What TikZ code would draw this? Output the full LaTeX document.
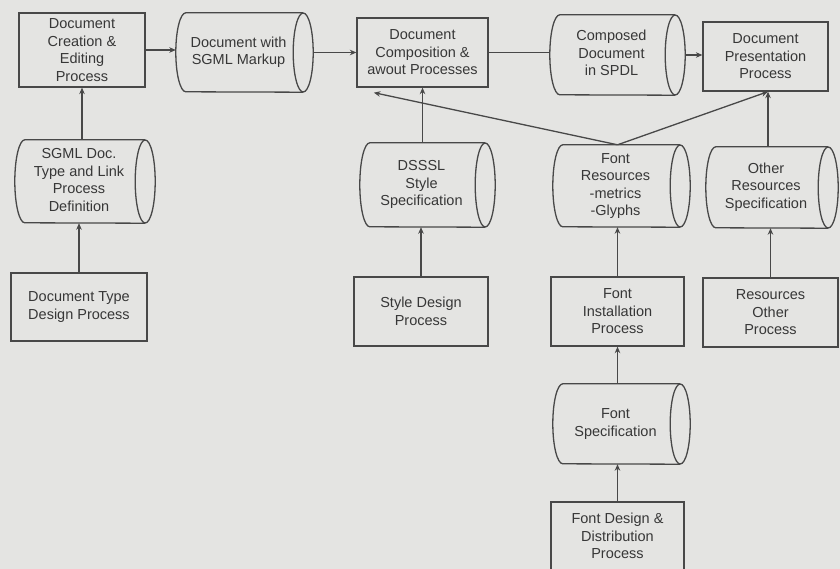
\documentclass[tikz,border=0pt]{standalone}
\usepackage{fontspec}
\setmainfont{Liberation Sans}
\usetikzlibrary{arrows.meta,calc}
\definecolor{bg}{RGB}{228,228,226}
\definecolor{ink}{RGB}{72,72,72}
\definecolor{txt}{RGB}{55,55,55}
\newcommand\cyltext[1]{\hspace*{-12pt}\begin{tabular}{@{}c@{}}#1\end{tabular}}
\newcommand\drawcyl[2]{%
  \draw[ln] ([xshift=-10pt]#1.north east) -- ([xshift=10pt]#1.north west)
    arc[start angle=90,end angle=270,x radius=10pt,y radius=#2]
    -- ([xshift=-10pt]#1.south east);
  \draw[ln] ([xshift=-10pt]#1.east) ellipse[x radius=10pt,y radius=#2];}
\begin{document}
\begin{tikzpicture}[x=1pt,y=-1pt,
  ln/.style={draw=ink,line width=1.3pt},
  arr/.style={ln,-{Stealth[length=6.5pt,width=5.5pt]}},
  txtfont/.style={text=txt,font=\fontsize{14.5}{17.5}\selectfont},
  proc/.style={rectangle,ln,txtfont,align=center,inner sep=0pt},
  store/.style={rectangle,draw=none,txtfont,inner sep=0pt}]
\useasboundingbox (0,0) rectangle (840,569);
\fill[bg] (0,0) rectangle (840,569);
\clip (0,0) rectangle (840,569);

% processes
\node[proc,minimum width=126pt,minimum height=74pt] (b1) at (82,50) {Document\\Creation \&\\Editing\\Process};
\node[proc,minimum width=131pt,minimum height=69pt] (b3) at (422.5,52.5) {Document\\Composition \&\\awout Processes};
\node[proc,minimum width=125pt,minimum height=69pt] (b5) at (765.5,56.5) {Document\\Presentation\\Process};
\node[proc,minimum width=136pt,minimum height=68pt] (b2) at (79,307) {Document Type\\Design Process};
\node[proc,minimum width=134pt,minimum height=69pt] (b4) at (421,311.5) {Style Design\\Process};
\node[proc,minimum width=133pt,minimum height=69pt] (b6) at (617.5,311.5) {Font\\Installation\\Process};
\node[proc,minimum width=135pt,minimum height=69pt] (b7) at (770.5,312.5) {Resources\\Other\\Process};
\node[proc,minimum width=133pt,minimum height=68pt] (b8) at (617.5,536) {Font Design \&\\Distribution\\Process};

% stores
\node[store,minimum width=137pt,minimum height=79pt] (cA) at (244.5,52.5) {\cyltext{Document with\\SGML Markup}};
\node[store,minimum width=135pt,minimum height=80pt] (cB) at (617.5,55) {\cyltext{Composed\\Document\\in SPDL}};
\node[store,minimum width=140pt,minimum height=83pt] (cC) at (85,181.5) {\cyltext{SGML Doc.\\Type and Link\\Process\\Definition}};
\node[store,minimum width=135pt,minimum height=84pt] (cD) at (427.5,185) {\cyltext{DSSSL\\Style\\Specification}};
\node[store,minimum width=137pt,minimum height=82pt] (cE) at (621.5,186) {\cyltext{Font\\Resources\\-metrics\\-Glyphs}};
\node[store,minimum width=132pt,minimum height=81pt] (cF) at (772,187.5) {\cyltext{Other\\Resources\\Specification}};
\node[store,minimum width=137pt,minimum height=80pt] (cG) at (621.5,424) {\cyltext{Font\\Specification}};
\drawcyl{cA}{39.5pt}
\drawcyl{cB}{40pt}
\drawcyl{cC}{41.5pt}
\drawcyl{cD}{42pt}
\drawcyl{cE}{41pt}
\drawcyl{cF}{40.5pt}
\drawcyl{cG}{40pt}

% connectors
\draw[arr] (b1.east) -- (b1.east -| cA.west);
\draw[arr] (cA.east) -- (cA.east -| b3.west);
\draw[ln] (b3.east) -- (b3.east -| cB.west);
\draw[arr] (cB.east) -- (cB.east -| b5.west);
\draw[arr] (b1.south |- cC.north) -- (b1.south);
\draw[arr] (b2.north) -- (b2.north |- cC.south);
\draw[arr] (b3.south |- cD.north) -- (b3.south);
\draw[arr] (b4.north) -- (b4.north |- cD.south);
\draw[arr] (b6.north) -- (b6.north |- cE.south);
\draw[arr] (b6.south |- cG.north) -- (b6.south);
\draw[arr] (b8.north) -- (b8.north |- cG.south);
\draw[arr] (b7.north) -- (b7.north |- cF.south);
\coordinate (p5) at ([xshift=2.5pt]b5.south);
\draw[arr] (p5 |- cF.north) -- (p5);
\coordinate (apex) at ([xshift=-4pt]cE.north);
\coordinate (p3) at ([shift={(17.5,5)}]b3.south west);
\draw[arr] (apex) -- (p5);
\draw[arr] (apex) -- (p3);
\end{tikzpicture}
\end{document}
